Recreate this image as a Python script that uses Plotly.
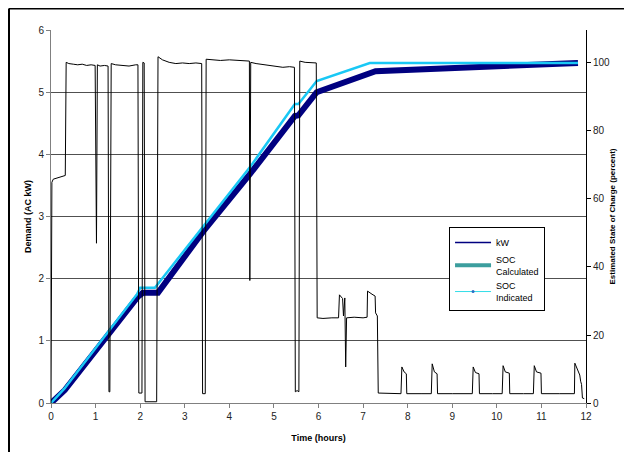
import plotly.graph_objects as go

# ---------------- data ----------------
# demand, kW (black line)
kw_time = [0.00, 0.02, 0.05, 0.25, 0.32, 0.34, 0.40, 0.50, 0.60, 0.70, 0.80, 0.90, 0.99,
           1.02, 1.04, 1.10, 1.20, 1.28, 1.30, 1.32, 1.35, 1.45, 1.60, 1.75, 1.90, 1.95,
           1.97, 2.04, 2.06, 2.09, 2.11, 2.13, 2.37, 2.40, 2.50, 2.65, 2.80, 2.95, 3.10,
           3.25, 3.38, 3.40, 3.46, 3.48, 3.60, 3.80, 4.00, 4.20, 4.40, 4.45, 4.46, 4.48,
           4.60, 4.80, 5.00, 5.20, 5.35, 5.46, 5.48, 5.52, 5.56, 5.58, 5.70, 5.85, 5.95,
           5.97, 6.10, 6.30, 6.45, 6.47, 6.54, 6.56, 6.59, 6.61, 6.63, 6.80, 7.00, 7.09,
           7.10, 7.20, 7.27, 7.28, 7.32, 7.34, 7.60, 7.85, 7.87, 7.92, 7.97, 7.98,
           8.30, 8.53, 8.55, 8.60, 8.66, 8.67, 9.00, 9.45, 9.47, 9.52, 9.60, 9.61,
           9.90, 10.12, 10.14, 10.19, 10.28, 10.29, 10.60, 10.82, 10.84, 10.89, 10.99, 11.00,
           11.40, 11.74, 11.75, 11.80, 11.86, 11.88, 11.90, 11.92, 11.96]
kw_value = [0.00, 3.55, 3.60, 3.64, 3.66, 5.48, 5.46, 5.45, 5.44, 5.45, 5.43, 5.44, 5.43,
            2.57, 5.44, 5.42, 5.43, 5.42, 0.18, 0.18, 5.46, 5.44, 5.43, 5.42, 5.44, 5.44,
            0.16, 0.16, 5.48, 5.47, 0.02, 0.02, 0.02, 5.57, 5.52, 5.48, 5.46, 5.47, 5.46,
            5.47, 5.46, 0.15, 0.15, 5.53, 5.52, 5.51, 5.52, 5.51, 5.50, 5.50, 1.97, 5.48,
            5.46, 5.44, 5.42, 5.40, 5.41, 5.40, 0.18, 0.20, 0.18, 5.50, 5.48, 5.47, 5.47,
            1.37, 1.36, 1.37, 1.37, 1.74, 1.68, 1.40, 1.69, 0.58, 1.37, 1.38, 1.37, 1.38,
            1.80, 1.75, 1.72, 1.45, 1.40, 0.16, 0.15, 0.15, 0.58, 0.50, 0.47, 0.15,
            0.15, 0.15, 0.63, 0.50, 0.47, 0.15, 0.15, 0.15, 0.58, 0.49, 0.47, 0.15,
            0.15, 0.15, 0.60, 0.50, 0.48, 0.15, 0.15, 0.15, 0.60, 0.50, 0.48, 0.15,
            0.15, 0.15, 0.64, 0.55, 0.45, 0.35, 0.30, 0.08, 0.07]

# state of charge, percent
soc_calc_time = [0, 0.31, 1.95, 2.06, 2.40, 3.41, 4.46, 5.47, 5.55, 5.96, 7.28, 11.82]
soc_calc_value = [0, 3.8, 31.3, 32.4, 32.4, 50.4, 67.3, 84.4, 84.6, 91.4, 97.6, 100]
soc_ind_time = [0, 0.30, 1.93, 2.00, 2.33, 3.38, 4.46, 5.47, 5.55, 5.96, 7.15, 11.82]
soc_ind_value = [0, 4.2, 32.0, 33.9, 33.9, 51.3, 69.3, 87.9, 87.9, 94.7, 100, 100]

x_ticks = list(range(0, 13))
kw_ticks = list(range(0, 7))
soc_ticks = [0, 20, 40, 60, 80, 100]

FONT = "Arial, Liberation Sans, sans-serif"

fig = go.Figure()
# SOC on the base axis (shown on the right) so the demand trace draws over it
fig.add_trace(go.Scatter(x=soc_calc_time, y=soc_calc_value, mode="lines",
                         line=dict(color="#000080", width=6), yaxis="y", showlegend=False))
fig.add_trace(go.Scatter(x=soc_ind_time, y=soc_ind_value, mode="lines",
                         line=dict(color="#19C8F5", width=2.5), yaxis="y", showlegend=False))
fig.add_trace(go.Scatter(x=kw_time, y=kw_value, mode="lines",
                         line=dict(color="black", width=1), yaxis="y2", showlegend=False))

# legend entries as Excel drew them
fig.add_trace(go.Scatter(x=[None], y=[None], mode="lines", name="kW",
                         line=dict(color="#000080", width=1.5)))
fig.add_trace(go.Scatter(x=[None], y=[None], mode="lines", name="SOC<br>Calculated",
                         line=dict(color="#3C9E9E", width=4)))
fig.add_trace(go.Scatter(x=[None], y=[None], mode="lines+markers", name="SOC<br>Indicated",
                         line=dict(color="#33DDE8", width=1), marker=dict(size=3, color="#2B6CC4")))

# the page adds an 8 px body margin, so the figure is 8 px smaller than the window
fig.update_layout(
    width=624, height=444,
    margin=dict(l=43, r=46, t=22, b=49, autoexpand=False),
    paper_bgcolor="white", plot_bgcolor="white",
    font=dict(family=FONT, size=10, color="#222"),
    xaxis=dict(range=[0, 12], tickvals=x_ticks, ticks="outside", ticklen=4, automargin=False,
               tickcolor="#808080", showline=True, linecolor="#808080", linewidth=1,
               showgrid=False, zeroline=False,
               title=dict(text="<b>Time (hours)</b>", font=dict(size=9, color="black"), standoff=13)),
    yaxis=dict(range=[0, 109.7], tickvals=soc_ticks, side="right", ticks="outside", ticklen=4,
               tickcolor="black", showline=True, linecolor="black", linewidth=1, automargin=False,
               showgrid=False, zeroline=False,
               title=dict(text="<b>Estimated State of Charge (percent)</b>",
                          font=dict(size=8, color="black"), standoff=0)),
    yaxis2=dict(range=[0, 6], tickvals=kw_ticks, side="left", overlaying="y", ticks="outside",
                ticklen=4, tickcolor="#808080", showline=True, linecolor="#808080", linewidth=1,
                showgrid=True, gridcolor="#505050", gridwidth=1, zeroline=False, automargin=False,
                title=dict(text="<b>Demand (AC kW)</b>", font=dict(size=9, color="black"), standoff=5)),
    legend=dict(x=0.744, y=0.472, xanchor="left", yanchor="top",
                bgcolor="white", bordercolor="black", borderwidth=1,
                font=dict(size=9, color="black"), itemwidth=36, tracegroupgap=0),
)

# outer chart frame (only left and top edges fall inside the picture)
fig.add_shape(type="line", xref="paper", yref="paper", x0=-0.0785, x1=1.2, y0=1.0576, y1=1.0576,
              line=dict(color="black", width=2))
fig.add_shape(type="line", xref="paper", yref="paper", x0=-0.0785, x1=-0.0785, y0=-0.3, y1=1.0576,
              line=dict(color="black", width=2))

fig.write_html("out.html")
